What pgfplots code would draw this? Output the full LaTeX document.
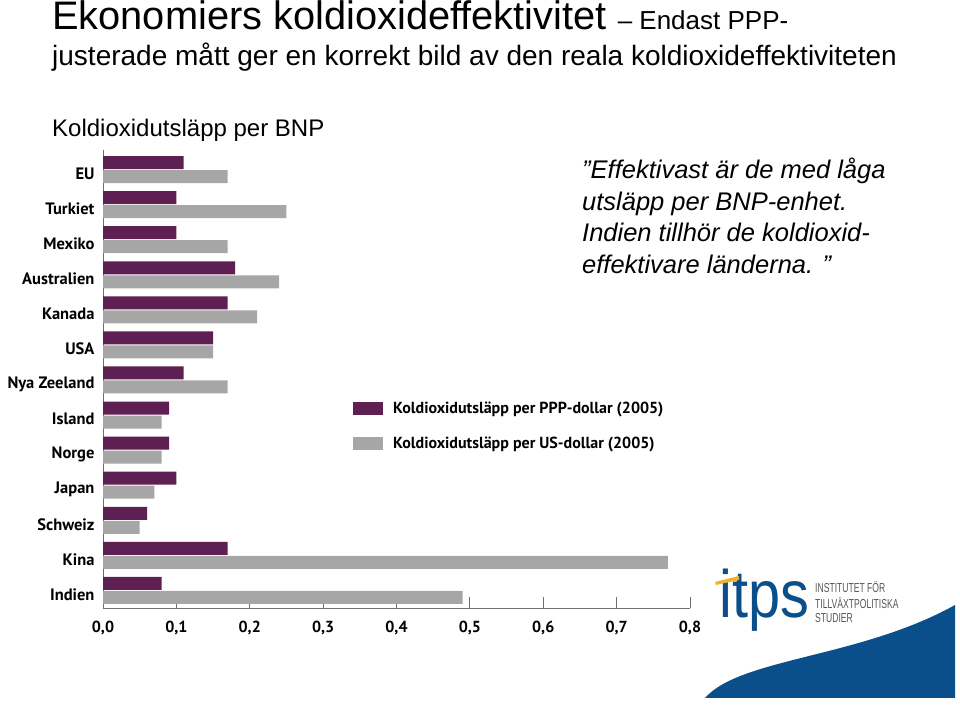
\documentclass[border=0pt]{standalone}
\usepackage{fontspec}
\setmainfont{Liberation Sans}
\newfontfamily\chartfont{PT Sans}
\usepackage{pgfplots}
\pgfplotsset{compat=1.18}
\definecolor{ppp}{RGB}{94,31,82}
\definecolor{usd}{RGB}{166,166,166}
\definecolor{itpsblue}{RGB}{11,79,138}
\definecolor{itpsyellow}{RGB}{240,178,40}
\definecolor{axisgray}{RGB}{110,110,110}
\definecolor{logogray}{RGB}{85,85,85}
\begin{document}
\begin{tikzpicture}[x=1pt,y=1pt]
\path[use as bounding box] (0,0) rectangle (960,708);
% titles
\node[anchor=base west,inner sep=0] at (52,678.5) {\fontsize{39.8}{40}\selectfont Ekonomiers koldioxideffektivitet \fontsize{26}{28}\selectfont – Endast PPP-};
\node[anchor=base west,inner sep=0] at (52,642) {\fontsize{28}{30}\selectfont justerade mått ger en korrekt bild av den reala koldioxideffektiviteten};
\node[anchor=base west,inner sep=0] at (52,571) {\fontsize{24}{26}\selectfont Koldioxidutsläpp per BNP};
% annotation
\begin{scope}[every node/.style={anchor=base west,inner sep=0,font=\itshape\fontsize{25.5}{30}\selectfont}]
\node at (582,529) {”Effektivast är de med låga};
\node at (582,497.5) {utsläpp per BNP-enhet.};
\node at (582,466) {Indien tillhör de koldioxid-};
\node at (582,434.5) {effektivare länderna. ”};
\end{scope}
% logo
\fill[itpsblue] (705,10) .. controls (740,50) and (860,50) .. (955,103) -- (955,10) -- cycle;
\node[anchor=base west,inner sep=0,text=itpsblue,font=\fontsize{62}{62}\selectfont] at (719,90) {\scalebox{0.93}[1.08]{itps}};
\fill[itpsyellow] (715,126) -- (739,132) -- (739,128) -- (716,123) -- cycle;
\begin{scope}[every node/.style={anchor=base west,inner sep=0,text=logogray,font=\fontsize{13}{14}\selectfont}]
\node at (815,115) {\scalebox{0.66}[1]{INSTITUTET FÖR}};
\node at (815,99) {\scalebox{0.66}[1]{TILLVÄXTPOLITISKA}};
\node at (815,85) {\scalebox{0.66}[1]{STUDIER}};
\end{scope}
\begin{axis}[
  at={(103pt,100pt)}, anchor=south west,
  width=587pt, height=458pt, scale only axis,
  xmin=0, xmax=0.8, ymin=-0.5, ymax=12.557,
  xbar, bar width=13pt,
  axis x line*=bottom, axis y line*=left,
  axis line style={axisgray, line width=0.9pt},
  xtick={0,0.1,0.2,0.3,0.4,0.5,0.6,0.7,0.8},
  tick align=inside,
  major tick length=11pt,
  x tick style={axisgray, line width=0.8pt},
  ytick={0,1,2,3,4,5,6,7,8,9,10,11,12},
  yticklabels={Indien,Kina,Schweiz,Japan,Norge,Island,Nya Zeeland,USA,Kanada,Australien,Mexiko,Turkiet,EU},
  y tick style={draw=none},
  /pgf/number format/assume math mode=true,
  xticklabel={\pgfmathprintnumber[fixed,fixed zerofill,precision=1,use comma]{\tick}},
  xticklabel style={font=\chartfont\bfseries\fontsize{16}{18}\selectfont, yshift=-10pt},
  yticklabel style={font=\chartfont\bfseries\fontsize{16.5}{18}\selectfont, xshift=-5pt, yshift=-4pt},
  legend style={at={(0.4259,0.4540)}, anchor=north west, draw=none, fill=none, inner sep=0pt,
    font=\chartfont\bfseries\fontsize{16}{18}\selectfont, row sep=18pt, cells={anchor=west},
    /tikz/every odd column/.append style={column sep=8pt}},
  legend image code/.code={\fill[#1] (0pt,-6.5pt) rectangle (30pt,6.5pt);},
]
\addplot[fill=ppp, draw=none, bar shift=7pt] coordinates {
 (0.08,0) (0.17,1) (0.06,2) (0.10,3) (0.09,4) (0.09,5) (0.11,6) (0.15,7) (0.17,8) (0.18,9) (0.10,10) (0.10,11) (0.11,12)};
\addplot[fill=usd, draw=none, bar shift=-7pt] coordinates {
 (0.49,0) (0.77,1) (0.05,2) (0.07,3) (0.08,4) (0.08,5) (0.17,6) (0.15,7) (0.21,8) (0.24,9) (0.17,10) (0.25,11) (0.17,12)};
\legend{Koldioxidutsläpp per PPP-dollar (2005),Koldioxidutsläpp per US-dollar (2005)}
\end{axis}
\end{tikzpicture}
\end{document}
